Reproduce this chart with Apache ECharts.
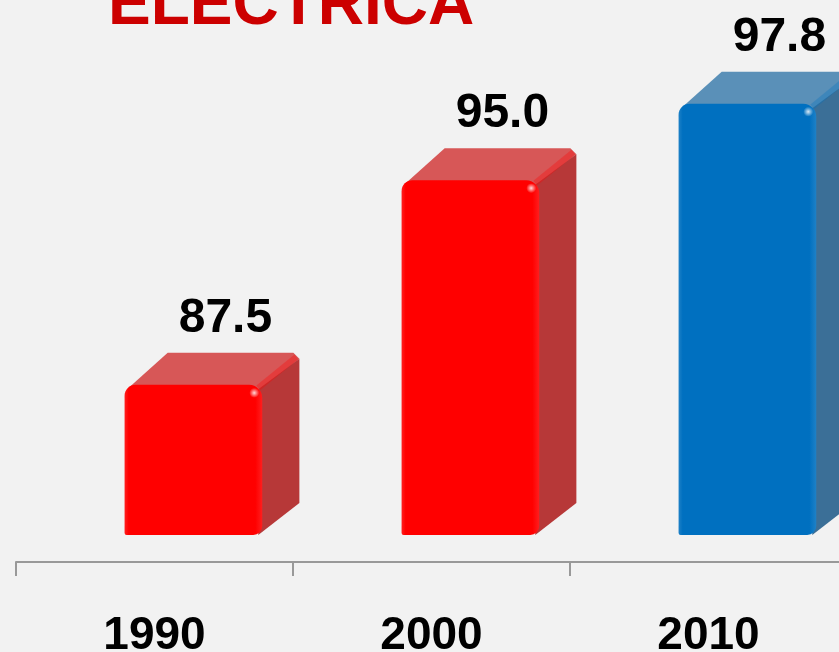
<!DOCTYPE html>
<html>
<head>
<meta charset="utf-8">
<title>ELECTRICA</title>
<script src="https://cdn.jsdelivr.net/npm/echarts@6/dist/echarts.min.js"></script>
<style>
    html, body { margin: 0; padding: 0; background: #f2f2f2; }
    #chart { width: 839px; height: 652px; }
</style>
</head>
<body>
<div id="chart"></div>
<script>
    // datos del grafico
    var years = ['1990', '2000', '2010'];
    var coverage = [87.5, 95.0, 97.8];

    // colores de cada barra: frente, tapa, lateral
    var faces = [
        {front: '#ff0000', top: '#d75757', side: '#b73838'},
        {front: '#ff0000', top: '#d75757', side: '#b73838'},
        {front: '#0070c0', top: '#5a90b8', side: '#3b6f97'}
    ];
    var FONT = '"Liberation Sans", Arial, sans-serif';

    var myChart = echarts.init(document.getElementById('chart'));

    function renderBar(params, api) {
        var idx = params.dataIndex;
        var band = api.size([1, 0])[0];
        var top = api.coord([idx, api.value(1)]);
        var base = api.coord([idx, 82]);
        var left = top[0] - band * 0.108;
        var w = band * 0.497;
        var dx = band * 0.134;
        var dy = 32;
        var T = top[1], B = base[1], R = left + w;
        var c = faces[idx];
        return {
            type: 'group',
            children: [
                {
                    type: 'polygon',
                    shape: {points: [[left + 3, T + 4], [left + dx + 6, T - dy], [R + dx - 6, T - dy], [R + dx, T - dy + 6], [R, T + 6]]},
                    style: {fill: c.top}
                },
                {
                    type: 'polygon',
                    shape: {points: [[R - 6, T + 6], [R + dx, T - dy + 6], [R + dx, B - dy], [R - 4, B]]},
                    style: {fill: c.side}
                },
                {
                    // arista entre tapa y lateral
                    type: 'line',
                    shape: {x1: R - 4, y1: T + 3, x2: R + dx - 3, y2: T - dy + 4},
                    style: {stroke: c.front, lineWidth: 6, opacity: 0.3}
                },
                {
                    type: 'rect',
                    shape: {x: left, y: T, width: w, height: B - T, r: [11, 13, 9, 2]},
                    style: {
                        fill: new echarts.graphic.LinearGradient(0, 0, 1, 0, [
                            {offset: 0, color: echarts.color.lift(c.front, 0.12)},
                            {offset: 0.03, color: c.front},
                            {offset: 0.95, color: c.front},
                            {offset: 1, color: echarts.color.lift(c.front, 0.12)}
                        ])
                    }
                },
                {
                    type: 'circle',
                    shape: {cx: R - 8, cy: T + 8, r: 5},
                    style: {fill: new echarts.graphic.RadialGradient(0.5, 0.5, 0.5, [
                        {offset: 0, color: 'rgba(255,255,255,0.85)'},
                        {offset: 1, color: 'rgba(255,255,255,0)'}
                    ])}
                },
                {
                    type: 'text',
                    style: {
                        x: left + w / 2 + 32,
                        y: T - dy - 10,
                        text: api.value(1).toFixed(1),
                        align: 'center',
                        verticalAlign: 'bottom',
                        fill: '#000',
                        font: 'bold 48px ' + FONT
                    }
                }
            ]
        };
    }

    var option = {
        backgroundColor: '#f2f2f2',
        animation: false,
        title: {
            text: 'ELECTRICA',
            left: 108,
            top: -26,
            padding: 0,
            textStyle: {color: '#cc0000', fontSize: 64, fontWeight: 'bold', fontFamily: FONT}
        },
        grid: {left: 16, right: -8, top: 0, bottom: 117, containLabel: false, outerBoundsMode: 'none'},
        xAxis: {
            type: 'category',
            data: years,
            offset: 27,
            axisLine: {show: true, lineStyle: {color: '#999999', width: 2}},
            axisTick: {show: true, length: 14, lineStyle: {color: '#999999', width: 2}},
            axisLabel: {
                margin: 51,
                color: '#000',
                fontSize: 46,
                fontWeight: 'bold',
                fontFamily: FONT
            }
        },
        yAxis: {type: 'value', min: 82, max: 101.6, show: false},
        series: [{
            type: 'custom',
            renderItem: renderBar,
            clip: false,
            data: coverage.map(function (v, i) { return [i, v]; })
        }]
    };
    myChart.setOption(option);
</script>
</body>
</html>
